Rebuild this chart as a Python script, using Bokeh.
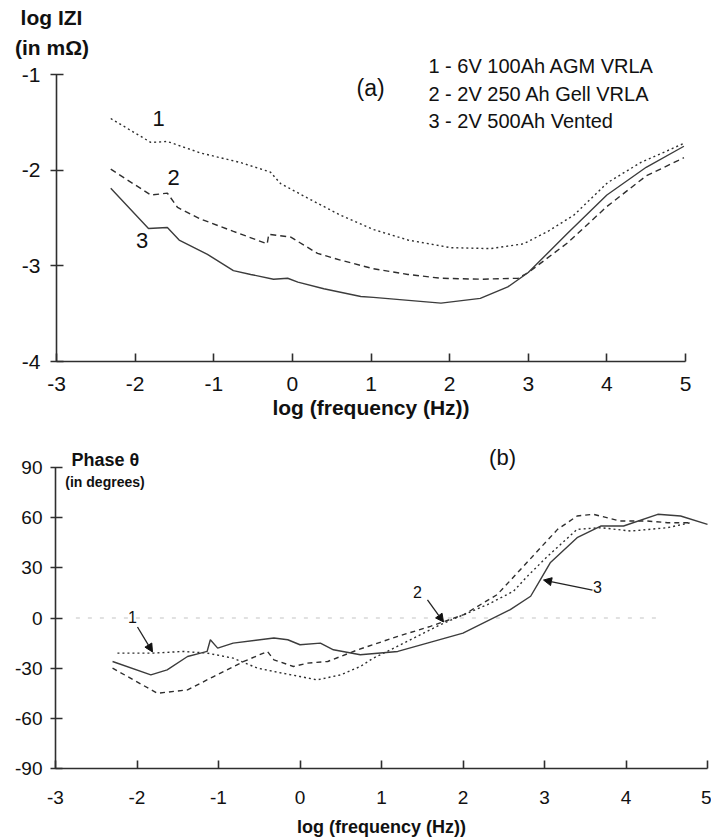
from bokeh.plotting import figure
from bokeh.models import Label, Arrow, NormalHead, FixedTicker, Range1d
from bokeh.layouts import column
from bokeh.embed import file_html
from bokeh.resources import INLINE

FONT = "Liberation Sans"
INK = "#2e2e2e"
TXT = "#111111"

# ---------------- Panel (a): log |Z| vs log frequency ----------------
a_xticks = [-3, -2, -1, 0, 1, 2, 3, 4, 5]
a_yticks = [-4, -3, -2, -1]
a_xlabels = ["-3", "-2", "-1", "0", "1", "2", "3", "4", "5"]
a_ylabels = ["-4", "-3", "-2", "-1"]

a_x1 = [-2.31, -1.80, -1.59, -1.17, -0.66, -0.28, -0.15, 0.19, 0.61, 1.03, 1.47,
        2.01, 2.52, 2.94, 3.25, 3.58, 4.01, 4.43, 4.98]
a_y1 = [-1.46, -1.71, -1.70, -1.82, -1.92, -2.02, -2.14, -2.29, -2.47, -2.62, -2.73,
        -2.81, -2.82, -2.77, -2.64, -2.47, -2.13, -1.92, -1.72]

a_x2 = [-2.31, -1.80, -1.59, -1.46, -1.17, -0.75, -0.32, -0.30, -0.02, 0.32, 0.61,
        1.03, 1.47, 1.89, 2.40, 2.87, 3.00, 3.50, 4.00, 4.50, 4.98]
a_y2 = [-1.99, -2.26, -2.24, -2.39, -2.51, -2.64, -2.77, -2.67, -2.70, -2.87, -2.94,
        -3.03, -3.09, -3.13, -3.14, -3.13, -3.07, -2.76, -2.38, -2.06, -1.87]

a_x3 = [-2.31, -1.83, -1.59, -1.44, -1.08, -0.75, -0.53, -0.24, -0.06, 0.07, 0.40,
        0.87, 1.03, 1.89, 2.39, 2.74, 3.00, 3.50, 4.00, 4.50, 4.98]
a_y3 = [-2.19, -2.61, -2.60, -2.73, -2.88, -3.05, -3.09, -3.14, -3.13, -3.17, -3.24,
        -3.32, -3.33, -3.39, -3.34, -3.22, -3.07, -2.66, -2.26, -1.97, -1.75]

a_legend = ["1 - 6V 100Ah AGM VRLA", "2 - 2V 250 Ah Gell VRLA", "3 - 2V 500Ah Vented"]
a_legend_x = 1.73
a_legend_y = [-0.906, -1.199, -1.481]
a_curve_labels = ["1", "2", "3"]
a_curve_label_x = [-1.70, -1.51, -1.91]
a_curve_label_y = [-1.46, -2.08, -2.73]

# ---------------- Panel (b): phase vs log frequency ----------------
b_xticks = [-3, -2, -1, 0, 1, 2, 3, 4, 5]
b_yticks = [-90, -60, -30, 0, 30, 60, 90]
b_xlabels = ["-3", "-2", "-1", "0", "1", "2", "3", "4", "5"]
b_ylabels = ["-90", "-60", "-30", "0", "30", "60", "90"]

b_x1 = [-2.24, -1.80, -1.43, -1.14, -0.82, -0.52, -0.32, 0.00, 0.21, 0.50, 0.74,
        0.90, 1.07, 1.72, 2.30, 2.62, 2.79, 3.04, 3.40, 3.69, 4.06, 4.51, 4.79]
b_y1 = [-21, -21, -20, -21, -24, -30, -32, -35, -37, -34, -29,
        -24, -20, -4, 8, 16, 25, 37, 53, 54, 52, 54, 57]

b_x2 = [-2.30, -1.75, -1.38, -1.06, -0.69, -0.40, -0.32, -0.08, 0.09, 0.34, 0.71,
        1.20, 1.60, 2.01, 2.42, 2.80, 3.16, 3.40, 3.60, 3.93, 4.26, 4.51, 4.79]
b_y2 = [-30, -45, -43, -35, -26, -20, -25, -29, -27, -26, -19,
        -11, -5, 2, 14, 34, 53, 61, 62, 58, 58, 57, 57]

b_x3 = [-2.30, -1.83, -1.63, -1.38, -1.22, -1.14, -1.10, -1.01, -0.82, -0.32, -0.15,
        0.00, 0.25, 0.41, 0.74, 1.20, 2.00, 2.58, 2.83, 2.95, 3.07, 3.40, 3.69, 3.97,
        4.39, 4.67, 5.00]
b_y3 = [-26, -34, -31, -23, -21, -20, -13, -18, -15, -12, -13,
        -16, -15, -19, -22, -20, -9, 5, 13, 23, 33, 48, 55, 55,
        62, 61, 56]

b_zero_x = [-2.75, 4.45]
b_zero_y = [0, 0]

b_curve_labels = ["1", "2", "3"]
b_label_x = [-2.055, 1.442, 3.65]
b_label_y = [0.6, 15.5, 18.5]
b_arrow_x0 = [-1.994, 1.564, 3.589]
b_arrow_y0 = [-5.4, 10.8, 16.7]
b_arrow_x1 = [-1.81, 1.761, 2.988]
b_arrow_y1 = [-20.3, -2.4, 22.7]


def frame_range(lo, hi, px_lo, px_hi, size, flip=False):
    """Extend the data range [lo, hi] (drawn between pixels px_lo..px_hi) to the whole canvas."""
    scale = (px_hi - px_lo) / (hi - lo)
    if not flip:
        return Range1d(lo - px_lo / scale, hi + (size - px_hi) / scale)
    # vertical: px_lo is the pixel of 'hi' (top), px_hi the pixel of 'lo' (bottom)
    return Range1d(lo - (size - px_hi) / scale, hi + px_lo / scale)


def style_axes(p, xticks, xlabels, yticks, ylabels, xb, yb, tick_size, x_standoff,
               y_standoff, y_in, y_out):
    for ax in p.xaxis:
        ax.ticker = FixedTicker(ticks=xticks)
        ax.major_label_overrides = {t: l for t, l in zip(xticks, xlabels)}
        ax.major_tick_in = 8
        ax.major_tick_out = 0
        ax.major_label_standoff = x_standoff
        ax.fixed_location = yb[0]
        ax.bounds = xb
    for ax in p.yaxis:
        ax.ticker = FixedTicker(ticks=yticks)
        ax.major_label_overrides = {t: l for t, l in zip(yticks, ylabels)}
        ax.major_tick_in = y_in
        ax.major_tick_out = y_out
        ax.major_label_standoff = y_standoff
        ax.fixed_location = xb[0]
        ax.bounds = yb
    for ax in list(p.xaxis) + list(p.yaxis):
        ax.axis_line_color = INK
        ax.axis_line_width = 1.6
        ax.major_tick_line_color = INK
        ax.major_tick_line_width = 1.6
        ax.minor_tick_line_color = None
        ax.major_label_text_font = FONT
        ax.major_label_text_font_size = tick_size
        ax.major_label_text_color = TXT
    p.xgrid.grid_line_color = None
    p.ygrid.grid_line_color = None
    p.outline_line_color = None


W = 711
H1 = 430
H2 = 410

# ---------- figure (a) ----------
p1 = figure(width=W, height=H1,
            x_range=frame_range(-3, 5, 56, 685, W),
            y_range=frame_range(-4, -1, 74, 361, H1, flip=True),
            output_backend="svg", toolbar_location=None, min_border=0)
style_axes(p1, a_xticks, a_xlabels, a_yticks, a_ylabels, (-3, 5), (-4, -1),
           "21px", 15, 10, 7, 6)
p1.xaxis.axis_label = "log (frequency (Hz))"
p1.xaxis.axis_label_text_font = FONT
p1.xaxis.axis_label_text_font_style = "bold"
p1.xaxis.axis_label_text_font_size = "21px"
p1.xaxis.axis_label_text_color = TXT
p1.xaxis.axis_label_standoff = 2

p1.line(a_x1, a_y1, line_color=INK, line_width=1.4, line_dash="2 3")
p1.line(a_x2, a_y2, line_color=INK, line_width=1.4, line_dash="6 4")
p1.line(a_x3, a_y3, line_color="#3c3c3c", line_width=1.4)

p1.add_layout(Label(x=-3.064, y=-0.404, text="log IZI", text_font=FONT, text_font_style="bold",
                    text_font_size="21px", text_align="center", text_baseline="middle",
                    text_color=TXT))
p1.add_layout(Label(x=-3.057, y=-0.718, text="(in mΩ)", text_font=FONT, text_font_style="bold",
                    text_font_size="21px", text_align="center", text_baseline="middle",
                    text_color=TXT))
p1.add_layout(Label(x=0.995, y=-1.146, text="(a)", text_font=FONT, text_font_size="23px",
                    text_align="center", text_baseline="middle", text_color=TXT))
for t, yy in zip(a_legend, a_legend_y):
    p1.add_layout(Label(x=a_legend_x, y=yy, text=t, text_font=FONT, text_font_size="20px",
                        text_align="left", text_baseline="middle", text_color=TXT))
for t, xx, yy in zip(a_curve_labels, a_curve_label_x, a_curve_label_y):
    p1.add_layout(Label(x=xx, y=yy, text=t, text_font=FONT, text_font_size="22px",
                        text_align="center", text_baseline="middle", text_color=TXT))

# ---------- figure (b) ----------
p2 = figure(width=W, height=H2,
            x_range=frame_range(-3, 5, 55, 707, W),
            y_range=frame_range(-90, 90, 37, 338, H2, flip=True),
            output_backend="svg", toolbar_location=None, min_border=0)
style_axes(p2, b_xticks, b_xlabels, b_yticks, b_ylabels, (-3, 5), (-90, 90),
           "19px", 22, 8, 7, 5)
p2.xaxis.axis_label = "log (frequency (Hz))"
p2.xaxis.axis_label_text_font = FONT
p2.xaxis.axis_label_text_font_style = "bold"
p2.xaxis.axis_label_text_font_size = "18px"
p2.xaxis.axis_label_text_color = TXT
p2.xaxis.axis_label_standoff = 10

p2.line(b_zero_x, b_zero_y, line_color="#c4c4c4", line_width=1.2, line_dash="4 8")
p2.line(b_x1, b_y1, line_color=INK, line_width=1.4, line_dash="2 3")
p2.line(b_x2, b_y2, line_color=INK, line_width=1.4, line_dash="5 4")
p2.line(b_x3, b_y3, line_color="#3c3c3c", line_width=1.4)

p2.add_layout(Label(x=-2.387, y=94.5, text="Phase θ", text_font=FONT, text_font_style="bold",
                    text_font_size="18px", text_align="center", text_baseline="middle",
                    text_color=TXT))
p2.add_layout(Label(x=-2.393, y=81.3, text="(in degrees)", text_font=FONT, text_font_style="bold",
                    text_font_size="14px", text_align="center", text_baseline="middle",
                    text_color=TXT))
p2.add_layout(Label(x=2.485, y=95.7, text="(b)", text_font=FONT, text_font_size="22px",
                    text_align="center", text_baseline="middle", text_color=TXT))
for t, xx, yy in zip(b_curve_labels, b_label_x, b_label_y):
    p2.add_layout(Label(x=xx, y=yy, text=t, text_font=FONT, text_font_size="16px",
                        text_align="center", text_baseline="middle", text_color=TXT))
for x0, y0, x1, y1 in zip(b_arrow_x0, b_arrow_y0, b_arrow_x1, b_arrow_y1):
    p2.add_layout(Arrow(end=NormalHead(size=8, fill_color=TXT, line_color=TXT),
                        x_start=x0, y_start=y0, x_end=x1, y_end=y1,
                        line_color="#222222", line_width=1.3))

layout = column(p1, p2, spacing=0)
open("out.html", "w").write(file_html(layout, INLINE))
